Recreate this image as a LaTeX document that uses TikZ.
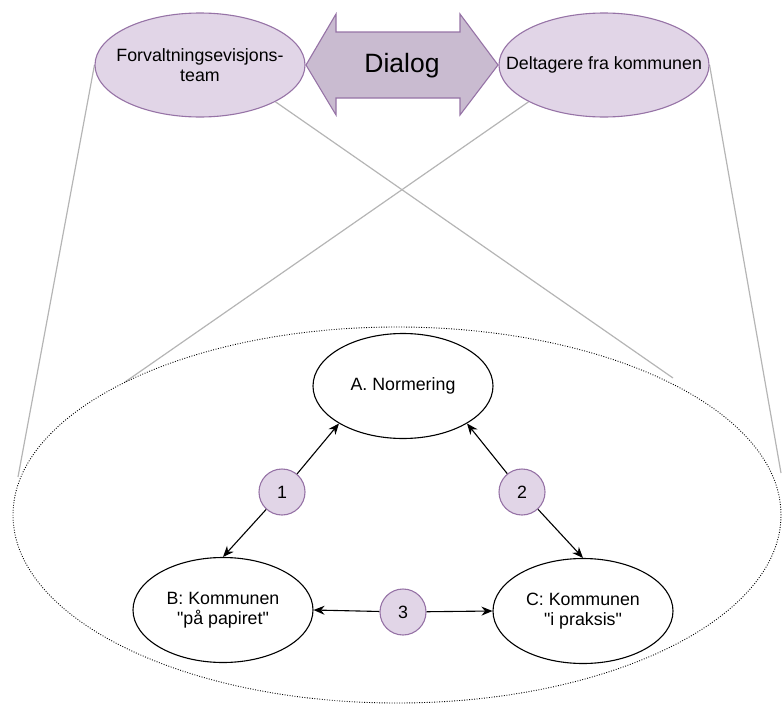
\documentclass[tikz,border=0pt]{standalone}
\usepackage{fontspec}
\setmainfont{Liberation Sans}[Ligatures=TeXOff]
\usetikzlibrary{arrows.meta,shapes.geometric,backgrounds}
\definecolor{lilafill}{HTML}{E1D5E7}
\definecolor{lilaline}{HTML}{9673A6}
\definecolor{dialogfill}{HTML}{C9BBD0}
\definecolor{linkgray}{HTML}{B5B5B5}
\tikzset{
  basefont/.style={font=\fontsize{17.8}{20}\selectfont},
  party/.style={ellipse, draw=lilaline, fill=lilafill, line width=1.1pt,
    minimum width=210pt, minimum height=104pt, inner sep=0pt},
  stage/.style={ellipse, draw=black, fill=white, line width=1.1pt,
    minimum width=180pt, minimum height=105pt, inner sep=0pt},
  caption/.style={basefont, align=center, inner sep=0pt},
  marker/.style={circle, draw=lilaline, fill=lilafill, line width=1.1pt,
    minimum size=46pt, inner sep=0pt, basefont},
  link/.style={draw=linkgray, line width=1.2pt},
  flow/.style={draw=black, line width=1.1pt, -{Stealth[length=11pt,width=9pt]}}
}
\begin{document}
\begin{tikzpicture}[x=1pt,y=-1pt]
\useasboundingbox (0,0) rectangle (782,704);

% top parties
\node[party] (team) at (200,65) {};
\node[caption] at (team.center) {Forvaltningsevisjons-\\team};
\node[party] (kommune) at (604,65) {};
\node[caption] at (kommune.center) {Deltagere fra kommunen};

% dialog arrow between the parties
\draw[draw=lilaline, fill=dialogfill, line width=1.1pt, line join=miter]
  (306,65) -- (336,14) -- (336,32) -- (460,32) -- (460,14) -- (498,65)
  -- (460,115) -- (460,98) -- (336,98) -- (336,115) -- cycle;
\node[font=\fontsize{26.5}{30}\selectfont] (dialog) at (402,66) {Dialog};

% outer zone
\node[ellipse, draw=black, line width=0.9pt, dash pattern=on 0.9pt off 1.6pt,
  minimum width=768pt, minimum height=376pt, inner sep=0pt] (zone) at (397,515) {};

% points where the viewing lines meet the outer zone
\coordinate (zl) at (18,477);
\coordinate (zr) at (781,473);
\coordinate (zul) at (125,382);
\coordinate (zur) at (673,378);

\begin{scope}[on background layer]
\path[link] (team.west) -- (zl);
\path[link] (team.334) -- (zur);
\path[link] (kommune.206) -- (zul);
\path[link] (kommune.east) -- (zr);
\end{scope}

% inner triangle
\node[stage] (A) at (403,386) {};
\node[caption] at (A.center) {A. Normering};
\node[stage] (B) at (223,610) {};
\node[caption] at (B.center) {B: Kommunen\\"på papiret"};
\node[stage] (C) at (583,611) {};
\node[caption] at (C.center) {C: Kommunen\\"i praksis"};

\node[marker] (m1) at (282,492) {1};
\node[marker] (m2) at (522,492) {2};
\node[marker] (m3) at (403,612) {3};

\draw[flow] (m1) -- (A.south west);
\draw[flow] (m1) -- (B.north);
\draw[flow] (m2) -- (A.south east);
\draw[flow] (m2) -- (C.north);
\draw[flow] (m3) -- (B.east);
\draw[flow] (m3) -- (C.west);
\end{tikzpicture}
\end{document}
